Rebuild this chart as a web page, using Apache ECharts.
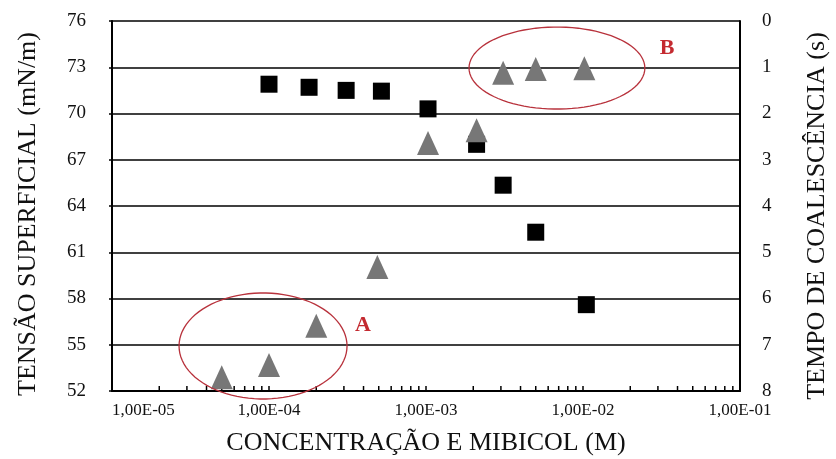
<!DOCTYPE html>
<html>
<head>
<meta charset="utf-8">
<script src="https://cdn.jsdelivr.net/npm/echarts@6/dist/echarts.min.js"></script>
<style>
  html, body { margin: 0; padding: 0; background: #ffffff; }
  #chart { width: 836px; height: 459px; }
</style>
</head>
<body>
<div id="chart"></div>
<script>
// Concentration of MIBICOL (M)
const tensionConc = [1e-4, 1.8e-4, 3.1e-4, 5.2e-4, 1.03e-3, 2.1e-3, 3.1e-3, 5e-3, 1.05e-2];
// Surface tension (mN/m), left axis
const tensionValues = [71.9, 71.7, 71.5, 71.45, 70.3, 68.0, 65.35, 62.3, 57.6];

const timeConc = [5e-5, 1e-4, 2e-4, 4.9e-4, 1.03e-3, 2.1e-3, 3.1e-3, 5e-3, 1.02e-2];
// Coalescence time (s), right axis (inverted)
const timeValues = [7.7, 7.44, 6.59, 5.32, 2.64, 2.36, 1.12, 1.04, 1.02];

// Decade tick labels of the concentration axis
const xTickLabels = ['1,00E-05', '1,00E-04', '1,00E-03', '1,00E-02', '1,00E-01'];
const xMinExp = -5;
const xMaxExp = -1;

// Log ticks along the concentration axis (decades and 2..9 within each decade)
const logTickConc = [
  1e-5, 2e-5, 3e-5, 4e-5, 5e-5, 6e-5, 7e-5, 8e-5, 9e-5,
  1e-4, 2e-4, 3e-4, 4e-4, 5e-4, 6e-4, 7e-4, 8e-4, 9e-4,
  1e-3, 2e-3, 3e-3, 4e-3, 5e-3, 6e-3, 7e-3, 8e-3, 9e-3,
  1e-2, 2e-2, 3e-2, 4e-2, 5e-2, 6e-2, 7e-2, 8e-2, 9e-2
];

// Highlight regions: centre (log10 of concentration, tension), half-widths (decades, mN/m)
const regionNames = ['A', 'B'];
const regionCenterExp = [-4.038, -2.166];
const regionCenterTension = [54.92, 72.95];
const regionHalfWidthDec = [0.535, 0.56];
const regionHalfHeight = [3.44, 2.66];
const regionLabelExp = [-3.401, -1.465];
const regionLabelTension = [56.28, 74.25];

const serif = '"Liberation Serif", "DejaVu Serif", serif';
const ink = '#111111';
const regionRed = '#b8323c';

const chart = echarts.init(document.getElementById('chart'), null, { renderer: 'canvas' });

const toPairs = (xs, ys) => xs.map((x, i) => [x, ys[i]]);

const option = {
  backgroundColor: '#ffffff',
  animation: false,
  grid: { left: 112, right: 96, top: 21, bottom: 68, containLabel: false, outerBoundsMode: 'none' },
  xAxis: {
    type: 'log',
    logBase: 10,
    min: Math.pow(10, xMinExp),
    max: Math.pow(10, xMaxExp),
    name: 'CONCENTRAÇÃO E MIBICOL (M)',
    nameLocation: 'middle',
    nameGap: 39,
    nameTextStyle: { fontFamily: serif, fontSize: 26, color: ink },
    axisLine: { show: true, onZero: false, lineStyle: { color: '#000', width: 2 } },
    axisTick: { show: false },
    splitLine: { show: false },
    axisLabel: {
      fontFamily: serif, fontSize: 17, color: ink, margin: 11,
      alignMinLabel: 'left', alignMaxLabel: 'right',
      formatter: (v) => {
        const e = Math.round(Math.log10(v));
        return xTickLabels[e - xMinExp] || '';
      }
    }
  },
  yAxis: [
    {
      type: 'value',
      min: 52, max: 76, interval: 3,
      position: 'left',
      name: 'TENSÃO SUPERFICIAL (mN/m)',
      nameLocation: 'middle',
      nameRotate: 90,
      nameGap: 71,
      nameTextStyle: { fontFamily: serif, fontSize: 26, color: ink, padding: [0, 16, 0, 0] },
      axisLine: { show: true, onZero: false, lineStyle: { color: '#000', width: 2 } },
      axisTick: { show: true, length: 3, lineStyle: { color: '#000', width: 1.5 } },
      splitLine: { show: true, lineStyle: { color: '#000', width: 1.6 } },
      axisLabel: { fontFamily: serif, fontSize: 19, color: ink, margin: 26 }
    },
    {
      type: 'value',
      min: 0, max: 8, interval: 1,
      inverse: true,
      position: 'right',
      name: 'TEMPO DE COALESCÊNCIA (s)',
      nameLocation: 'middle',
      nameRotate: 90,
      nameGap: 64,
      nameTextStyle: { fontFamily: serif, fontSize: 26, color: ink, padding: [0, 20, 0, 0] },
      axisLine: { show: true, onZero: false, lineStyle: { color: '#000', width: 2 } },
      axisTick: { show: false },
      splitLine: { show: false },
      axisLabel: { fontFamily: serif, fontSize: 19, color: ink, margin: 22 }
    }
  ],
  series: [
    {
      name: 'logTicks',
      type: 'scatter',
      yAxisIndex: 0,
      silent: true,
      symbol: 'rect',
      symbolSize: [1.5, 5],
      symbolOffset: [0, -2.5],
      itemStyle: { color: '#000', opacity: 1 },
      data: logTickConc.map((c) => [c, 52]),
      z: 1
    },
    {
      name: 'Tensão superficial',
      type: 'scatter',
      yAxisIndex: 0,
      symbol: 'rect',
      symbolSize: 17,
      itemStyle: { color: '#000000', opacity: 1 },
      data: toPairs(tensionConc, tensionValues),
      z: 3
    },
    {
      name: 'Tempo de coalescência',
      type: 'scatter',
      yAxisIndex: 1,
      symbol: 'triangle',
      symbolSize: [22, 24],
      itemStyle: { color: '#777777', opacity: 1 },
      data: toPairs(timeConc, timeValues),
      z: 4
    },
    {
      name: 'regions',
      type: 'custom',
      yAxisIndex: 0,
      silent: true,
      clip: false,
      z: 5,
      data: regionNames.map((n, i) => [Math.pow(10, regionCenterExp[i]), regionCenterTension[i]]),
      renderItem: (params, api) => {
        const i = params.dataIndex;
        const pts = [];
        const steps = 90;
        for (let k = 0; k < steps; k++) {
          const t = (k / steps) * Math.PI * 2;
          const xe = regionCenterExp[i] + regionHalfWidthDec[i] * Math.cos(t);
          const yv = regionCenterTension[i] + regionHalfHeight[i] * Math.sin(t);
          pts.push(api.coord([Math.pow(10, xe), yv]));
        }
        const lp = api.coord([Math.pow(10, regionLabelExp[i]), regionLabelTension[i]]);
        return {
          type: 'group',
          children: [
            {
              type: 'polygon',
              shape: { points: pts },
              style: { fill: 'none', stroke: regionRed, lineWidth: 1.3 }
            },
            {
              type: 'text',
              x: lp[0], y: lp[1],
              style: {
                text: regionNames[i],
                fill: '#c42a30',
                font: 'bold 22px ' + serif,
                align: 'center',
                verticalAlign: 'middle'
              }
            }
          ]
        };
      }
    }
  ]
};

chart.setOption(option);
</script>
</body>
</html>
